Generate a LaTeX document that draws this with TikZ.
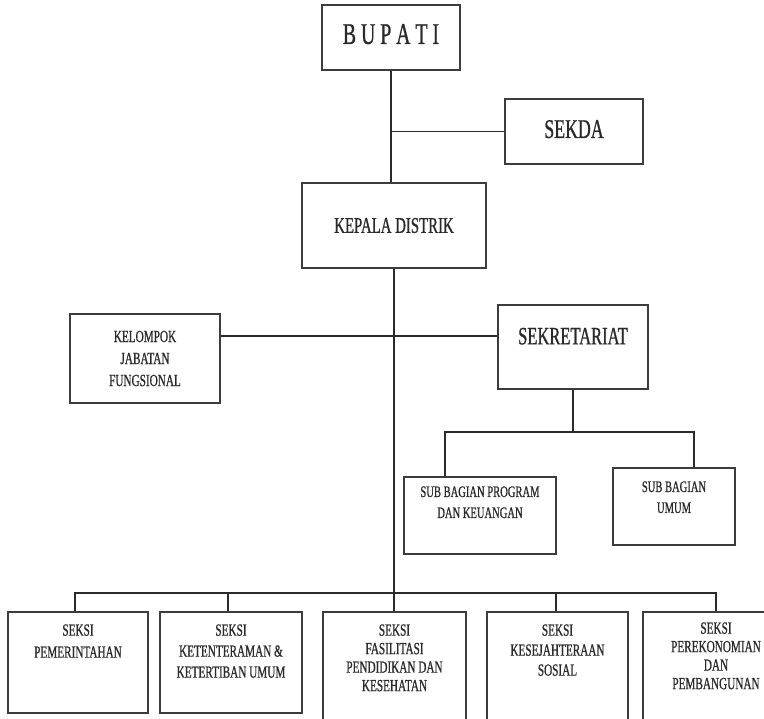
\documentclass[tikz,border=0pt]{standalone}
\usepackage{fontspec}
\setmainfont{Liberation Serif}[FakeStretch=0.66, FakeBold=0.8]
\usepackage{xcolor}
\usetikzlibrary{positioning}

\definecolor{inkgray}{HTML}{2A2A2A}
\definecolor{boxgray}{HTML}{3C3C3C}

\tikzset{
  unitbox/.style={draw=boxgray, line width=1.6pt, fill=white, inner sep=0pt},
  unittext/.style={text=inkgray, align=center, inner sep=0pt},
  orgline/.style={draw=inkgray, line width=1.4pt},
}

\begin{document}
\begin{tikzpicture}[x=1pt,y=-1pt]
  \useasboundingbox (0,0) rectangle (764,719);
  \clip (0,0) rectangle (764,719);

  % top part
  \node (bupati) [unitbox, unittext, minimum width=138pt, minimum height=65pt,
    font=\fontsize{30}{32}\selectfont] at (391,37.5) {\raisebox{7pt}{B U P A T I}};
  \node (sekda) [unitbox, unittext, minimum width=138pt, minimum height=65pt,
    font=\fontsize{27}{29}\selectfont] at (574,131.5) {\raisebox{5pt}{SEKDA}};
  \node (kepala) [unitbox, unittext, minimum width=184pt, minimum height=85pt,
    font=\fontsize{22.5}{24}\selectfont] at (394,225.5) {\raisebox{-4pt}{KEPALA DISTRIK}};

  % middle part
  \node (kelompok) [unitbox, unittext, minimum width=150pt, minimum height=89pt,
    font=\fontsize{17}{22}\selectfont] at (145,358.5) {KELOMPOK\\JABATAN\\FUNGSIONAL};
  \node (sekr) [unitbox, minimum width=150pt, minimum height=84pt] at (573,347) {};
  \node (sekrtext) [unittext, font=\fontsize{25}{27}\selectfont,
    below=32pt of sekr.north, anchor=center] {SEKRETARIAT};

  \node (prog) [unitbox, minimum width=152pt, minimum height=77pt] at (480,515.5) {};
  \node (progtext) [unittext, font=\fontsize{16}{21}\selectfont,
    below=10pt of prog.north] {SUB BAGIAN PROGRAM\\DAN KEUANGAN};
  \node (umum) [unitbox, minimum width=122pt, minimum height=77pt] at (674,506.5) {};
  \node (umumtext) [unittext, font=\fontsize{16}{21}\selectfont,
    below=14pt of umum.north] {SUB BAGIAN\\UMUM};

  % seksi row
  \node (pem) [unitbox, minimum width=140pt, minimum height=101pt] at (78,662.5) {};
  \node (ket) [unitbox, minimum width=142pt, minimum height=101pt] at (231,662.5) {};
  \node (fas) [unitbox, minimum width=143pt, minimum height=120pt] at (394.5,672) {};
  \node (kes) [unitbox, minimum width=141pt, minimum height=120pt] at (557.5,672) {};
  \node (per) [unitbox, minimum width=146pt, minimum height=120pt] at (716,672) {};

  \node (pemtext) [unittext, font=\fontsize{17}{22}\selectfont,
    below=13pt of pem.north] {SEKSI\\PEMERINTAHAN};
  \node (kettext) [unittext, font=\fontsize{17}{21}\selectfont,
    below=13pt of ket.north] {SEKSI\\KETENTERAMAN \&\\KETERTIBAN UMUM};
  \node (fastext) [unittext, font=\fontsize{17}{18.5}\selectfont,
    below=13pt of fas.north] {SEKSI\\FASILITASI\\PENDIDIKAN DAN\\KESEHATAN};
  \node (kestext) [unittext, font=\fontsize{17}{20}\selectfont,
    below=13pt of kes.north] {SEKSI\\KESEJAHTERAAN\\SOSIAL};
  \node (pertext) [unittext, font=\fontsize{17}{18.5}\selectfont,
    below=11pt of per.north] {SEKSI\\PEREKONOMIAN\\DAN\\PEMBANGUNAN};

  % connectors
  \coordinate (sbus) at (573,432);
  \coordinate (bus) at (394,593);
  \draw[orgline] (bupati.south) -- (bupati.south |- kepala.north);
  \draw[orgline] (sekda.west) -- (sekda.west -| bupati.south);
  \draw[orgline] (kepala.south) -- (kepala.south |- fas.north);
  \draw[orgline] (kelompok.east |- sekrtext) -- (sekr.west |- sekrtext);
  \draw[orgline] (sekr.south) -- (sbus);
  \draw[orgline] ([xshift=-35pt]prog.north) |- (sbus) -| ([xshift=20pt]umum.north);
  \draw[orgline] ([xshift=-3pt]pem.north) |- (bus) -| (per.north);
  \draw[orgline] ([xshift=-3pt]ket.north) -- ([xshift=-3pt]ket.north |- bus);
  \draw[orgline] ([xshift=-1.5pt]kes.north) -- ([xshift=-1.5pt]kes.north |- bus);
\end{tikzpicture}
\end{document}
